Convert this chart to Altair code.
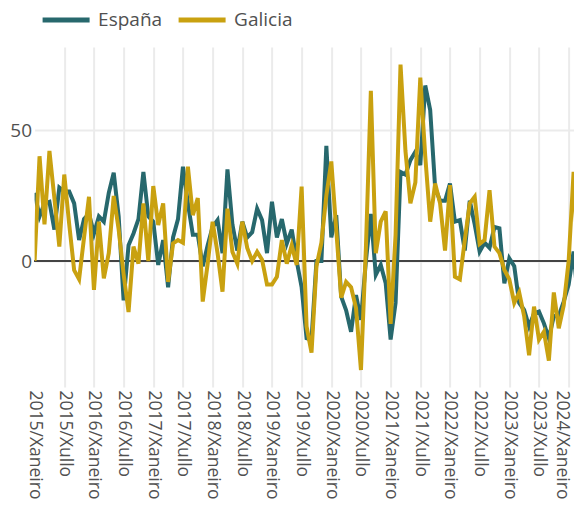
import json
import altair as alt
import pandas as pd

series_names = ["España", "Galicia"]
colors = ["#27686d", "#c9a110"]

tick_labels = [
    "2015/Xaneiro", "2015/Xullo", "2016/Xaneiro", "2016/Xullo",
    "2017/Xaneiro", "2017/Xullo", "2018/Xaneiro", "2018/Xullo",
    "2019/Xaneiro", "2019/Xullo", "2020/Xaneiro", "2020/Xullo",
    "2021/Xaneiro", "2021/Xullo", "2022/Xaneiro", "2022/Xullo",
    "2023/Xaneiro", "2023/Xullo", "2024/Xaneiro",
]

# monthly values from 2015/Xaneiro (index 0) onwards
espana = [
    26, 17, 22, 22.6, 12, 28, 26.5, 26.5, 22, 8,
    16, 18, 10.5, 17, 15, 26, 33.7, 17, -15, 6,
    10.5, 16, 34, 17, 15, -1.5, 8, -10, 9, 16,
    36, 22, 10, 10, -2, 6, 13, 15.6, 3, 35,
    14, 4, 15, 9, 11, 20, 15.6, 3, 22.6, 9,
    16, 6.7, 12, 0, -10, -29.5, -30, 0, 0, 44,
    9, 17.5, -13.6, -18.8, -27, -13, -22.5, 0, 18, -5.3,
    -1.5, -8.5, -30, -16, 34, 33, 38.5, 41.7, 36.6, 67,
    57.6, 28, 23, 23, 29.6, 15, 15.6, 4, 23, 14,
    3.6, 7, 5, 13, 12.5, -8.5, 1, -2, -16, -18.7,
    -25, -20, -19.3, -23.8, -29.5, -21, -21, -15.5, -9, 3.6,
    -17.4,
]
galicia = [
    0, 40, 14, 42, 24, 5.5, 33, 14, -3.5, -7,
    9, 24.5, -11, 15, -6.6, 3, 24.8, 12, -5, -19.5,
    5.5, -1, 22, 0, 28.6, 13.7, 22, -8, 6.7, 8,
    7, 36, 17.5, 24, -15.5, -1, 15, 3, -11.7, 20,
    3.5, -1, 15, 5, 0, 3.5, 0.5, -9, -9, -6,
    8, -1, 6, -1.5, 28.4, -25, -35, -2, 7, 25,
    38, 12, -14, -8, -10, -18, -41.6, 5, 65, 3,
    15, 19, -24, 10, 75, 42, 22, 30, 70, 40,
    15, 29.6, 22, 4, 29, -6, -7, 8, 22, 24.5,
    6.5, 8, 27, 5.5, 3, -3.4, -7, -16, -12, -21,
    -36, -17.4, -30, -27, -38, -12, -25.7, -17, 0, 34,
    -6,
]

rows = []
for name, vals in zip(series_names, [espana, galicia]):
    for i, v in enumerate(vals):
        rows.append({"mes": i, "valor": v, "serie": name})
df = pd.DataFrame(rows)

FONT = "Open Sans"
TXT = "#505050"

x_enc = alt.X(
    "mes:Q",
    scale=alt.Scale(domain=[0, 110.7], nice=False, zero=False),
    axis=alt.Axis(
        values=list(range(0, 110, 6)),
        labelExpr=json.dumps(tick_labels, ensure_ascii=False) + "[round(datum.value/6)]",
        labelAngle=90,
        labelAlign="left",
        labelBaseline="middle",
        labelPadding=3,
        labelOffset={"condition": {"test": "datum.value == 108", "value": -7}, "value": 0},
        tickSize=0,
        ticks=False,
        domain=False,
        grid=True,
        gridColor="#ebebeb",
        gridWidth=2,
        gridOpacity={"condition": {"test": "datum.value == 0", "value": 0}, "value": 1},
        labelOverlap=False,
        labelFlush=False,
        labelBound=False,
        labelFont=FONT,
        labelFontSize=17.5,
        labelColor=TXT,
        title=None,
    ),
)
y_enc = alt.Y(
    "valor:Q",
    scale=alt.Scale(domain=[-48.1, 81.7], nice=False, zero=False),
    axis=alt.Axis(
        values=[0, 50],
        tickSize=0,
        ticks=False,
        domain=False,
        grid=True,
        gridColor="#ebebeb",
        gridWidth=2,
        labelPadding=3,
        labelFont=FONT,
        labelFontSize=19,
        labelColor=TXT,
        title=None,
    ),
)
color_enc = alt.Color(
    "serie:N",
    scale=alt.Scale(domain=series_names, range=colors),
    legend=alt.Legend(
        title=None,
        orient="none",
        direction="horizontal",
        legendX=5.5,
        legendY=-53,
        symbolType="stroke",
        symbolSize=2209,
        symbolStrokeWidth=5,
        labelFont=FONT,
        labelFontSize=19,
        labelColor=TXT,
        labelOffset=6,
        columnPadding=5,
        padding=0,
    ),
)

zero = alt.Chart(df).mark_rule(color="#444444", strokeWidth=2).encode(y=alt.datum(0))

lines = [
    alt.Chart(df).transform_filter(alt.datum.serie == name).mark_line(strokeWidth=4, clip=True).encode(
        x=x_enc, y=y_enc, color=color_enc
    )
    for name in series_names
]

chart = alt.layer(zero, *lines).properties(
    width=547.4,
    height=340,
    padding={"left": 26.6, "top": 39, "right": -8, "bottom": 113},
    autosize=alt.AutoSizeParams(type="none"),
).configure_view(stroke=None)

chart.save("out.html", embed_options={"renderer": "svg", "actions": False})
